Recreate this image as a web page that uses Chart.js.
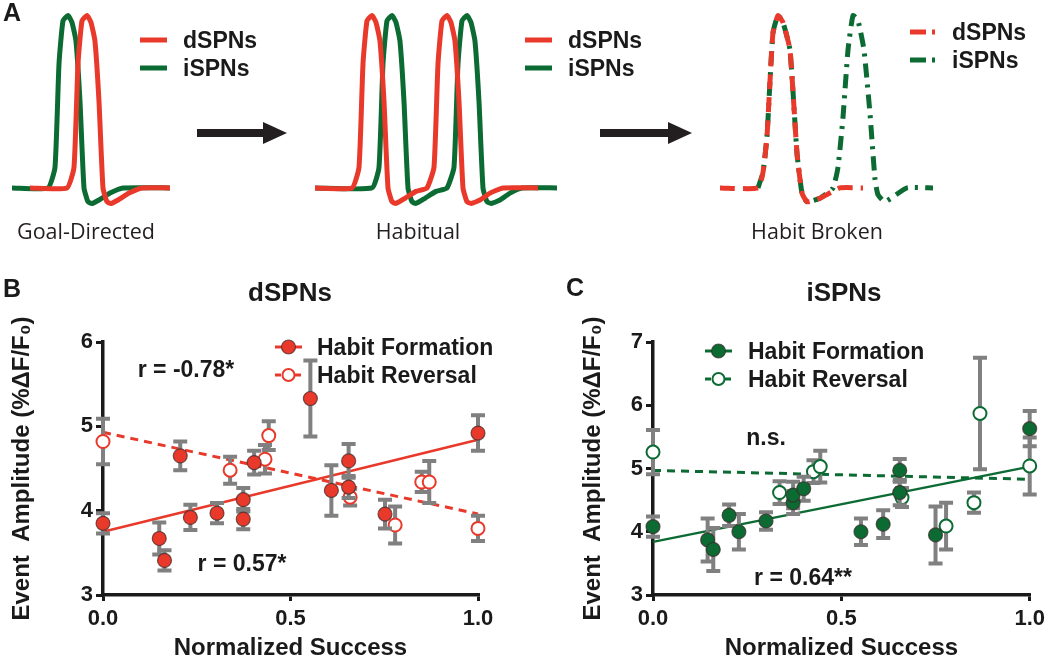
<!DOCTYPE html>
<html>
<head>
<meta charset="utf-8">
<title>dSPN / iSPN event amplitude vs normalized success</title>
<script src="https://cdn.jsdelivr.net/npm/chart.js"></script>
<style>
  body { margin: 0; background: #fff; }
  #fig { position: relative; width: 1050px; height: 660px; overflow: hidden;
         font-family: Arial, "Liberation Sans", sans-serif; color: #1a1a1a; }
  canvas { position: absolute; }
  .t { position: absolute; white-space: nowrap; line-height: 1; transform: translate(-50%, -50%); }
  .l { position: absolute; white-space: nowrap; line-height: 1; transform: translateY(-50%); }
  .b { font-weight: bold; }
  .plain { font-family: "Open Sans", sans-serif; font-size: 21.5px; color: #231f20; }
</style>
</head>
<body>
<div id="fig">
  <canvas id="chartA" width="1050" height="250" style="left:0px;top:0px"></canvas>
  <canvas id="chartB" width="530" height="400" style="left:0px;top:260px"></canvas>
  <canvas id="chartC" width="510" height="400" style="left:540px;top:260px"></canvas>

  <div class="t b" style="left:12px;top:12px;font-size:25px">A</div>
  <div class="l b" style="left:183px;top:40px;font-size:23px">dSPNs</div>
  <div class="l b" style="left:183px;top:68px;font-size:23px">iSPNs</div>
  <div class="l b" style="left:568px;top:40px;font-size:23px">dSPNs</div>
  <div class="l b" style="left:568px;top:68px;font-size:23px">iSPNs</div>
  <div class="l b" style="left:952px;top:32px;font-size:23px">dSPNs</div>
  <div class="l b" style="left:952px;top:60px;font-size:23px">iSPNs</div>
  <div class="t plain" style="left:86px;top:231px">Goal-Directed</div>
  <div class="t plain" style="left:418px;top:231px">Habitual</div>
  <div class="t plain" style="left:817px;top:231px">Habit Broken</div>

  <div class="t b" style="left:12px;top:288px;font-size:25px">B</div>
  <div class="t b" style="left:290px;top:292px;font-size:26px">dSPNs</div>
  <div class="l b" style="left:317px;top:347px;font-size:23px">Habit Formation</div>
  <div class="l b" style="left:317px;top:375px;font-size:23px">Habit Reversal</div>
  <div class="t b" style="left:186px;top:369px;font-size:23px">r = -0.78*</div>
  <div class="t b" style="left:242px;top:563px;font-size:23px">r = 0.57*</div>

  <div class="t b" style="left:575px;top:287px;font-size:25px">C</div>
  <div class="t b" style="left:844px;top:292px;font-size:26px">iSPNs</div>
  <div class="l b" style="left:748px;top:351px;font-size:23px">Habit Formation</div>
  <div class="l b" style="left:748px;top:379px;font-size:23px">Habit Reversal</div>
  <div class="t b" style="left:766px;top:437px;font-size:23px">n.s.</div>
  <div class="t b" style="left:803px;top:577px;font-size:23px">r = 0.64**</div>
</div>

<script>
const RED = '#e8392b';
const GREEN = '#0c6a33';
const GREY = '#808080';
const INK = '#1a1a1a';

// ---- panel A: schematic calcium transients (time, normalized amplitude) ----
const goalRedX   = [30, 67, 74, 78, 82, 87, 91, 95, 99, 103, 107, 111, 118, 129, 142, 170];
const goalRedY   = [0, 0, 0.12, 0.72, 0.97, 1, 0.96, 0.85, 0.5, 0, -0.08, -0.09, -0.07, -0.03, 0, 0];
const goalGreenX = [12, 48, 55, 59, 63, 68, 72, 76, 80, 84, 88, 92, 99, 110, 123, 170];
const goalGreenY = [0, 0, 0.12, 0.72, 0.97, 1, 0.96, 0.85, 0.5, 0, -0.08, -0.09, -0.07, -0.03, 0, 0];

const habRedX = [315, 352, 359, 363, 367, 372, 376, 380, 384, 388, 392, 396, 405, 416, 427,
                 434, 438, 442, 447, 451, 455, 459, 463, 467, 471, 480, 490, 503, 538];
const habRedY = [0, 0, 0.12, 0.72, 0.97, 1, 0.96, 0.85, 0.5, 0, -0.08, -0.09, -0.06, -0.02, 0,
                 0.12, 0.72, 0.97, 1, 0.96, 0.85, 0.5, 0, -0.08, -0.09, -0.07, -0.03, 0, 0];
const habGreenX = [315, 372, 379, 383, 387, 392, 396, 400, 404, 408, 412, 416, 425, 436, 447,
                   454, 458, 462, 467, 471, 475, 479, 483, 487, 491, 500, 510, 522, 557];
const habGreenY = [0, 0, 0.12, 0.72, 0.97, 1, 0.96, 0.85, 0.5, 0, -0.08, -0.09, -0.06, -0.02, 0,
                   0.12, 0.72, 0.97, 1, 0.96, 0.85, 0.5, 0, -0.08, -0.09, -0.07, -0.03, 0, 0];

const brokenRedX = [720, 758, 763, 767, 770, 773, 778, 783, 790, 797, 802, 807, 820, 840, 863];
const brokenRedY = [0, 0, 0.09, 0.3, 0.62, 0.9, 1, 0.96, 0.8, 0.2, -0.03, -0.08, -0.06, 0, 0];
const brokenGreenX = [758, 763, 767, 770, 773, 778, 783, 790, 797, 802, 807, 820, 833,
                      838, 843, 848, 853, 858, 864, 870, 875, 878, 885, 907, 933];
const brokenGreenY = [0, 0.09, 0.3, 0.62, 0.9, 1, 0.96, 0.8, 0.2, -0.03, -0.08, -0.06, 0,
                      0.12, 0.41, 0.8, 1, 0.97, 0.8, 0.43, 0.05, -0.04, -0.08, 0, 0];

// ---- panel B: dSPNs ----
const bFormX   = [0.0, 0.15, 0.164, 0.206, 0.233, 0.304, 0.374, 0.374, 0.403, 0.553, 0.609, 0.655, 0.655, 0.752, 1.0];
const bFormY   = [3.85, 3.67, 3.41, 4.65, 3.92, 3.97, 4.13, 3.90, 4.57, 5.33, 4.24, 4.59, 4.28, 3.96, 4.92];
const bFormErr = [0.12, 0.19, 0.12, 0.17, 0.15, 0.12, 0.14, 0.12, 0.14, 0.45, 0.30, 0.20, 0.13, 0.17, 0.21];
const bRevX    = [0.0, 0.339, 0.432, 0.442, 0.659, 0.779, 0.85, 0.87, 1.0];
const bRevY    = [4.82, 4.48, 4.61, 4.89, 4.16, 3.83, 4.34, 4.34, 3.79];
const bRevErr  = [0.27, 0.16, 0.17, 0.17, 0.10, 0.22, 0.12, 0.25, 0.15];
const bFormFit = [3.75, 4.84];
const bRevFit  = [4.93, 3.96];

// ---- panel C: iSPNs ----
const cFormX   = [0.0, 0.145, 0.16, 0.202, 0.228, 0.30, 0.372, 0.372, 0.40, 0.552, 0.611, 0.655, 0.655, 0.75, 1.0];
const cFormY   = [4.08, 3.87, 3.72, 4.26, 4.00, 4.17, 4.46, 4.58, 4.68, 4.00, 4.12, 4.97, 4.62, 3.95, 5.63];
const cFormErr = [0.16, 0.34, 0.34, 0.17, 0.28, 0.14, 0.18, 0.21, 0.19, 0.21, 0.22, 0.18, 0.20, 0.45, 0.28];
const cRevX    = [0.0, 0.336, 0.426, 0.444, 0.661, 0.778, 0.852, 0.868, 1.0];
const cRevY    = [5.26, 4.62, 4.95, 5.03, 4.54, 4.09, 4.46, 5.87, 5.04];
const cRevErr  = [0.35, 0.18, 0.18, 0.25, 0.15, 0.37, 0.16, 0.88, 0.45];
const cFormFit = [3.84, 5.03];
const cRevFit  = [4.97, 4.83];

const fitX = [0, 1];
const xTicks = [0, 0.5, 1.0];
const bYTicks = [3, 4, 5, 6];
const cYTicks = [3, 4, 5, 6, 7];

const pts = (xs, ys) => xs.map((x, i) => ({ x: x, y: ys[i] }));

// error bars + legend glyphs + arrows, drawn through the chart's scales / canvas
const decorPlugin = {
  id: 'decor',
  beforeDatasetDraw(chart, args, opts) {
    const ds = chart.data.datasets[args.index];
    if (!ds.errors) return;
    const ctx = chart.ctx, xs = chart.scales.x, ys = chart.scales.y;
    ctx.save();
    ctx.strokeStyle = GREY;
    ctx.lineWidth = 4;
    ds.data.forEach((p, i) => {
      const px = xs.getPixelForValue(p.x);
      const top = ys.getPixelForValue(p.y + ds.errors[i]);
      const bot = ys.getPixelForValue(p.y - ds.errors[i]);
      ctx.beginPath();
      ctx.moveTo(px, top); ctx.lineTo(px, bot);
      ctx.moveTo(px - 7, top); ctx.lineTo(px + 7, top);
      ctx.moveTo(px - 7, bot); ctx.lineTo(px + 7, bot);
      ctx.stroke();
    });
    ctx.restore();
  },
  afterDraw(chart, args, opts) {
    const ctx = chart.ctx;
    (opts.keys || []).forEach(k => {
      ctx.save();
      ctx.strokeStyle = k.color;
      ctx.lineWidth = k.width;
      ctx.setLineDash(k.dash || []);
      ctx.beginPath();
      ctx.moveTo(k.x0, k.y); ctx.lineTo(k.x1, k.y);
      ctx.stroke();
      ctx.setLineDash([]);
      if (k.marker) {
        const mx = (k.x0 + k.x1) / 2;
        ctx.beginPath();
        ctx.arc(mx, k.y, k.marker === 'filled' ? 7 : 6, 0, Math.PI * 2);
        ctx.fillStyle = k.marker === 'filled' ? k.color : '#fff';
        ctx.fill();
        ctx.lineWidth = k.marker === 'filled' ? 1.2 : 2;
        ctx.strokeStyle = k.marker === 'filled' ? 'rgba(60,40,40,0.7)' : k.color;
        ctx.stroke();
      }
      ctx.restore();
    });
    (opts.arrows || []).forEach(a => {
      ctx.save();
      ctx.fillStyle = '#231f20';
      ctx.fillRect(a.x0, a.y - 4, a.x1 - a.x0 - 24, 8);
      ctx.beginPath();
      ctx.moveTo(a.x1 - 24, a.y - 11);
      ctx.lineTo(a.x1, a.y);
      ctx.lineTo(a.x1 - 24, a.y + 11);
      ctx.closePath();
      ctx.fill();
      ctx.restore();
    });
  }
};

function trace(xs, ys, color, dash) {
  return { data: pts(xs, ys), borderColor: color, borderDash: dash, borderWidth: 5,
           pointRadius: 0, tension: 0.15, borderJoinStyle: 'round', borderCapStyle: 'butt', clip: false };
}

new Chart(document.getElementById('chartA'), {
  type: 'line',
  data: {
    datasets: [
      trace(goalRedX, goalRedY, RED, []),
      trace(goalGreenX, goalGreenY, GREEN, []),
      trace(habRedX, habRedY, RED, []),
      trace(habGreenX, habGreenY, GREEN, []),
      trace(brokenRedX, brokenRedY, RED, [15, 8]),
      trace(brokenGreenX, brokenGreenY, GREEN, [14, 7, 3, 7])
    ]
  },
  options: {
    responsive: false,
    animation: false,
    layout: { padding: 0 },
    plugins: {
      legend: { display: false },
      tooltip: { enabled: false },
      decor: {
        keys: [
          { x0: 140, x1: 167, y: 40, color: RED, width: 5 },
          { x0: 140, x1: 167, y: 68, color: GREEN, width: 5 },
          { x0: 525, x1: 552, y: 40, color: RED, width: 5 },
          { x0: 525, x1: 552, y: 68, color: GREEN, width: 5 },
          { x0: 910, x1: 938, y: 32, color: RED, width: 5, dash: [16, 6, 3, 6] },
          { x0: 910, x1: 938, y: 60, color: GREEN, width: 5, dash: [16, 6, 3, 6] }
        ],
        arrows: [ { x0: 197, x1: 287, y: 133 }, { x0: 600, x1: 692, y: 133 } ]
      }
    },
    scales: {
      x: { type: 'linear', display: false, min: 0, max: 1050 },
      y: { display: false, min: -0.36, max: 1.09 }
    }
  },
  plugins: [decorPlugin]
});

const tickFont = { family: 'Arial, "Liberation Sans", sans-serif', size: 22, weight: 'bold' };
const titleFont = { family: 'Arial, "Liberation Sans", sans-serif', size: 24, weight: 'bold', lineHeight: 1 };

function scatterScales(yTicks, yWidth, yTitlePad) {
  return {
    x: {
      type: 'linear', min: xTicks[0], max: xTicks[xTicks.length - 1],
      afterBuildTicks: s => { s.ticks = xTicks.map(v => ({ value: v })); },
      afterFit: s => { s.height = 65; },
      ticks: { font: tickFont, color: INK, padding: 5, maxRotation: 0, autoSkip: false,
               callback: v => Number(v).toFixed(1) },
      grid: { drawOnChartArea: false, color: INK, lineWidth: 3, tickLength: 6 },
      border: { color: INK, width: 3.5 },
      title: { display: true, text: 'Normalized Success', font: titleFont, color: INK,
               padding: { top: 0, bottom: 0 } }
    },
    y: {
      type: 'linear', min: yTicks[0], max: yTicks[yTicks.length - 1],
      afterBuildTicks: s => { s.ticks = yTicks.map(v => ({ value: v })); },
      afterFit: s => { s.width = yWidth; },
      ticks: { font: tickFont, color: INK, padding: 3, autoSkip: false },
      grid: { drawOnChartArea: false, color: INK, lineWidth: 3, tickLength: 7 },
      border: { color: INK, width: 3.5 },
      title: { display: true, text: 'Event  Amplitude (%\u0394F/F\u2080)', font: titleFont, color: INK,
               padding: { top: yTitlePad, bottom: 0 } }
    }
  };
}

function scatterDatasets(color, formX, formY, formErr, revX, revY, revErr, formFit, revFit) {
  return [
    { type: 'scatter', data: pts(formX, formY), errors: formErr, pointRadius: 7,
      pointBackgroundColor: color, pointBorderColor: 'rgba(60,40,40,0.7)', pointBorderWidth: 1.2, clip: false },
    { type: 'scatter', data: pts(revX, revY), errors: revErr, pointRadius: 6.5,
      pointBackgroundColor: '#fff', pointBorderColor: color, pointBorderWidth: 2, clip: false },
    { type: 'line', data: pts(fitX, formFit), borderColor: color, borderWidth: 2.5, pointRadius: 0, clip: false },
    { type: 'line', data: pts(fitX, revFit), borderColor: color, borderWidth: 3, borderDash: [8, 6],
      pointRadius: 0, clip: false }
  ];
}

function scatterChart(id, color, sets, yTicks, yWidth, yTitlePad, padRight, keyX0, keyY) {
  return new Chart(document.getElementById(id), {
    type: 'scatter',
    data: { datasets: sets },
    options: {
      responsive: false,
      animation: false,
      layout: { padding: { left: 0, top: 82, right: padRight, bottom: 0 } },
      plugins: {
        legend: { display: false },
        tooltip: { enabled: false },
        decor: {
          keys: [
            { x0: keyX0, x1: keyX0 + 27, y: keyY, color: color, width: 3, marker: 'filled' },
            { x0: keyX0, x1: keyX0 + 27, y: keyY + 28, color: color, width: 3, dash: [6, 4], marker: 'open' }
          ]
        }
      },
      scales: scatterScales(yTicks, yWidth, yTitlePad)
    },
    plugins: [decorPlugin]
  });
}

scatterChart('chartB', RED,
  scatterDatasets(RED, bFormX, bFormY, bFormErr, bRevX, bRevY, bRevErr, bFormFit, bRevFit),
  bYTicks, 103, 10, 52, 275, 87);

scatterChart('chartC', GREEN,
  scatterDatasets(GREEN, cFormX, cFormY, cFormErr, cRevX, cRevY, cRevErr, cFormFit, cRevFit),
  cYTicks, 113, 41, 17, 165, 91);
</script>
</body>
</html>
